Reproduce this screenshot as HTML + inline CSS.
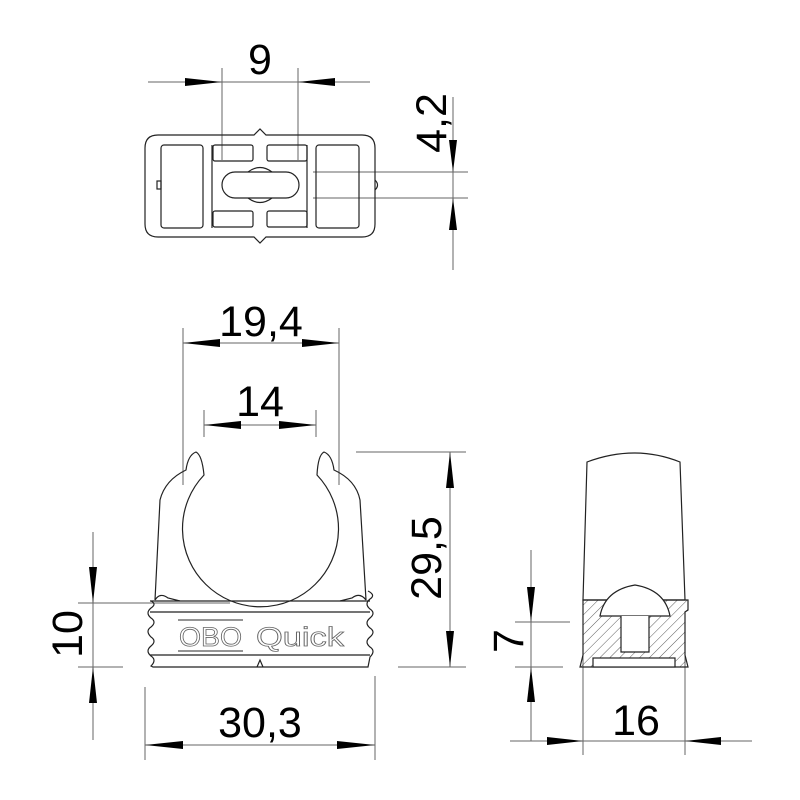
<!DOCTYPE html>
<html><head><meta charset="utf-8"><style>
html,body{margin:0;padding:0;background:#fff}
svg{display:block}
text{font-family:"Liberation Sans",sans-serif;fill:#000}
</style></head><body>
<svg width="800" height="800" viewBox="0 0 800 800" xmlns="http://www.w3.org/2000/svg">
<defs>
<pattern id="h" width="7" height="7" patternUnits="userSpaceOnUse" patternTransform="rotate(45)">
<line x1="0" y1="0" x2="0" y2="7" stroke="#333" stroke-width="0.8"/>
</pattern>
</defs>
<g stroke="#666" stroke-width="1" fill="none">
<line x1="148" y1="82" x2="370" y2="82"/>
<line x1="222" y1="68" x2="222" y2="160"/>
<line x1="298" y1="68" x2="298" y2="160"/>
<line x1="453" y1="97" x2="453" y2="270"/>
<line x1="313" y1="172" x2="468" y2="172"/>
<line x1="313" y1="198" x2="468" y2="198"/>
<line x1="183" y1="343" x2="339" y2="343"/>
<line x1="183" y1="328" x2="183" y2="485"/>
<line x1="339" y1="328" x2="339" y2="485"/>
<line x1="204" y1="425" x2="316" y2="425"/>
<line x1="204" y1="410" x2="204" y2="437"/>
<line x1="316" y1="410" x2="316" y2="437"/>
<line x1="450" y1="452" x2="450" y2="667"/>
<line x1="356" y1="452" x2="466" y2="452"/>
<line x1="398" y1="667" x2="466" y2="667"/>
<line x1="93" y1="532" x2="93" y2="740"/>
<line x1="78" y1="603" x2="230" y2="603"/>
<line x1="78" y1="667" x2="123" y2="667"/>
<line x1="145" y1="745" x2="375" y2="745"/>
<line x1="145" y1="687" x2="145" y2="760"/>
<line x1="375" y1="676" x2="375" y2="760"/>
<line x1="531" y1="550" x2="531" y2="741"/>
<line x1="515" y1="622" x2="570" y2="622"/>
<line x1="515" y1="667" x2="563" y2="667"/>
<line x1="510" y1="741" x2="752" y2="741"/>
<line x1="583" y1="638" x2="583" y2="755"/>
<line x1="685" y1="632" x2="685" y2="755"/>
</g>
<g fill="#000">
<polygon points="185,78 222,82 185,86"/>
<polygon points="335,78 298,82 335,86"/>
<polygon points="449,140 453,172 457,140"/>
<polygon points="449,230 453,198 457,230"/>
<polygon points="183,343 220,339 220,347"/>
<polygon points="339,343 302,339 302,347"/>
<polygon points="204,425 241,421 241,429"/>
<polygon points="316,425 279,421 279,429"/>
<polygon points="450,452 446,488 454,488"/>
<polygon points="450,667 446,631 454,631"/>
<polygon points="89,567 93,603 97,567"/>
<polygon points="89,703 93,667 97,703"/>
<polygon points="145,745 183,741 183,749"/>
<polygon points="375,745 337,741 337,749"/>
<polygon points="527,587 531,622 535,587"/>
<polygon points="527,702 531,667 535,702"/>
<polygon points="547,737 583,741 547,745"/>
<polygon points="721,737 685,741 721,745"/>
</g>
<g font-size="43">
<text x="260" y="74" text-anchor="middle">9</text>
<text x="261" y="336" text-anchor="middle">19,4</text>
<text x="260" y="416" text-anchor="middle">14</text>
<text x="260" y="737" text-anchor="middle">30,3</text>
<text x="636" y="735" text-anchor="middle">16</text>
<text transform="translate(446,123) rotate(-90)" text-anchor="middle">4,2</text>
<text transform="translate(441,558) rotate(-90)" text-anchor="middle">29,5</text>
<text transform="translate(82,634) rotate(-90)" text-anchor="middle">10</text>
<text transform="translate(523,641) rotate(-90)" text-anchor="middle">7</text>
</g>
<g stroke="#222" stroke-width="1.2" fill="none">
<path d="M158,135 H254 L260,129 L266,135 H362 Q375,135 375,148 V224 Q375,237 362,237 H266 L260,243 L254,237 H158 Q145,237 145,224 V148 Q145,135 158,135 Z"/>
<rect x="161" y="145" width="42" height="83" rx="3"/>
<rect x="316" y="145" width="43" height="83" rx="3"/>
<path d="M212,145 V228 M307,145 V228"/>
<rect x="213" y="145" width="40" height="16" rx="2"/>
<rect x="267" y="145" width="40" height="16" rx="2"/>
<rect x="213" y="211" width="40" height="16" rx="2"/>
<rect x="267" y="211" width="40" height="16" rx="2"/>
<rect x="222" y="172" width="77" height="26" rx="13"/>
<path d="M248,172 Q260,163 272,172 M248,198 Q260,207 272,198"/>
<rect x="157" y="181" width="4" height="8"/>
<path d="M375,180 Q380,185 375,190"/>
<path d="M155,600 L160,500 Q165,480 186,470 Q188,455 196,452 Q202,455 204,475 A78,78 0 1 0 317,475 Q318,455 324,452 Q332,455 334,470 Q356,480 360,500 L366,600"/>
<path d="M155,600 Q160,592 168,598 L180,601 M366,600 Q360,592 352,598 L340,601"/>
<path d="M150,601 H370 M150,612 H370 M150,655 H370"/>
<path d="M151,601 q6,3 0,7 q-6,5 0,10 q6,4 0,9 q-6,4 0,10 q6,4 0,9 q-6,5 0,10 q6,4 0,10 L153,667 H368 L370,657 q6,-6 0,-10 q-6,-5 0,-10 q6,-5 0,-9 q-6,-5 0,-10 q6,-5 0,-9 q-6,-5 0,-10 q6,-4 -2,-8"/>
<path d="M257,667 L260,660 L263,667"/>
<path d="M178,620 H243 M178,651 H243" stroke-width="1.3" stroke="#555"/>
<path d="M587,462 Q635,444 680,462 L685,600 L583,600 Z"/>
<path d="M583,600 H688 V610 L685,612 V655 L688,667 H580 L583,655 V612 L583,610 Z" fill="url(#h)"/>
<path d="M600,616 Q605,590 635,585 Q665,590 670,616 Z" fill="#fff"/>
<path d="M621,616 V652 H649 V616" fill="#fff"/>
<rect x="593" y="658" width="82" height="9" fill="#fff"/>
</g>
<text x="179" y="646" font-size="27" style="fill:none" stroke="#666" stroke-width="0.8" textLength="63" lengthAdjust="spacingAndGlyphs">OBO</text>
<text x="256" y="646" font-size="27" style="fill:none" stroke="#666" stroke-width="0.8" textLength="88" lengthAdjust="spacingAndGlyphs">Quick</text>
</svg>
</body></html>
